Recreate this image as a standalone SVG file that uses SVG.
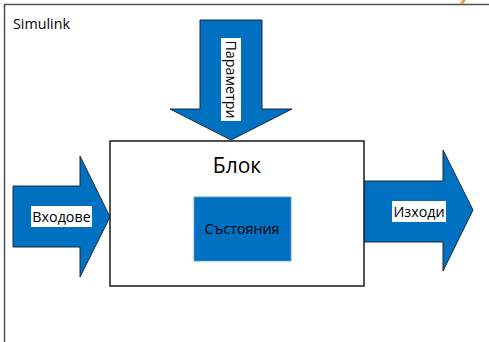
<svg xmlns="http://www.w3.org/2000/svg" width="489" height="342" viewBox="0 0 489 342">
<style>
.arrow{fill:#0070C0;stroke:#1a2a3a;stroke-width:1}
.lbl{fill:#000;font-family:"Open Sans","Liberation Sans",sans-serif}
.lblbg{fill:#fff}
</style>
<rect width="489" height="342" fill="#fff"/>
<g id="frame">
<path d="M4.5,342 V4.5 H489" fill="none" stroke="#505050" stroke-width="1.5"/>
<path d="M460,4 L462,0 L466,0 L463,4 Z" fill="#E8A040"/>
<text x="13" y="29" class="lbl" font-size="14.3">Simulink</text>
</g>
<g id="connectors">
<g id="params">
<path class="arrow" d="M200,20 H262 V109 H292 L231,140 L170,109 H200 Z"/>
<rect class="lblbg" x="221" y="38" width="20" height="83"/>
<text class="lbl" font-size="14.3" transform="translate(225.5,79.5) rotate(90)" text-anchor="middle">Параметри</text>
</g>
<g id="inputs">
<path class="arrow" d="M13,186 H80 V156 L110,217 L80,277 V247 H13 Z"/>
<rect class="lblbg" x="31" y="206" width="61" height="21"/>
<text class="lbl" x="61.5" y="222" font-size="14.3" text-anchor="middle">Входове</text>
</g>
<g id="outputs">
<path class="arrow" d="M364,181 H443 V150 L473,210 L443,271 V242 H364 Z"/>
<rect class="lblbg" x="392" y="201" width="54" height="21"/>
<text class="lbl" x="419" y="217" font-size="14.3" text-anchor="middle">Изходи</text>
</g>
</g>
<g id="block">
<rect x="110" y="141" width="254" height="145" fill="#fff" stroke="#1a1a1a" stroke-width="1.5"/>
<text class="lbl" x="237" y="173" font-size="21" text-anchor="middle">Блок</text>
</g>
<g id="states">
<rect x="194" y="197" width="97" height="64" fill="#0070C0" stroke="#5B9BD5" stroke-width="0.8"/>
<text class="lbl" x="242" y="234" font-size="14.3" text-anchor="middle">Състояния</text>
</g>
</svg>
